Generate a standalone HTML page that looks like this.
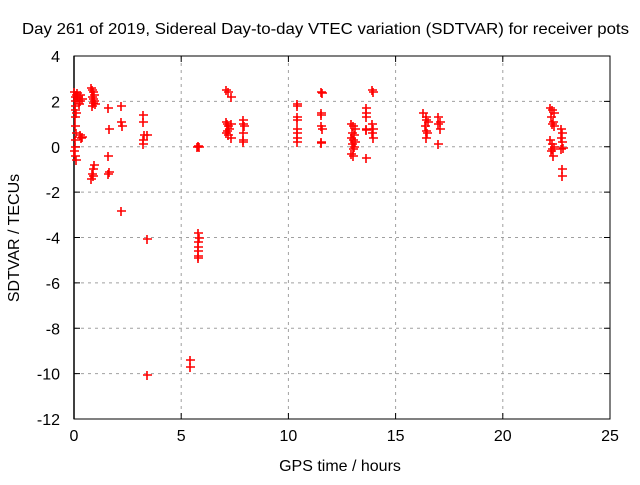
<!DOCTYPE html>
<html><head><meta charset="utf-8"><style>
body{margin:0;background:#fff}
svg text{font-family:"Liberation Sans",sans-serif;font-size:16px;fill:#000}
</style></head><body>
<svg width="640" height="480" xmlns="http://www.w3.org/2000/svg" id="c">
<text x="22" y="34" textLength="607" lengthAdjust="spacingAndGlyphs">Day 261 of 2019, Sidereal Day-to-day VTEC variation (SDTVAR) for receiver pots</text>
<text x="340" y="471" text-anchor="middle">GPS time / hours</text>
<text transform="translate(19,238) rotate(-90)" text-anchor="middle">SDTVAR / TECUs</text>
<g id="grid"></g>
<g id="ax"></g>
<g id="pts"></g>
</svg>
<script>
const xTicks=[0,5,10,15,20,25];
const yTicks=[4,2,0,-2,-4,-6,-8,-10,-12];
const xs=[0.02,0.03,0.05,0.04,0.06,0.08,0.03,0.05,0.07,0.04,0.06,0.02,0.05,0.08,0.1,0.12,0.15,0.2,0.25,0.3,0.35,0.28,0.32,0.3,0.35,
0.8,0.85,0.9,0.95,0.82,0.88,0.92,0.98,0.85,0.9,0.8,0.85,0.9,0.95,0.88,
1.6,1.62,1.6,1.62,1.6,2.2,2.2,2.22,2.2,3.2,3.2,3.25,3.2,3.2,3.4,3.4,3.4,5.4,5.4,
5.75,5.8,5.85,5.8,5.82,5.8,5.8,5.8,5.78,5.8,
7.1,7.2,7.3,7.1,7.15,7.2,7.25,7.3,7.1,7.2,7.3,7.15,7.9,7.9,7.92,7.9,7.88,7.9,
10.4,10.42,10.4,10.42,10.4,10.4,10.4,10.4,11.5,11.55,11.5,11.52,11.5,11.55,11.5,11.5,
12.9,13.0,13.1,12.95,13.05,12.9,13.0,13.1,12.95,13.05,13.0,12.9,13.0,13.6,13.62,13.6,13.6,13.62,13.6,
13.9,13.95,13.9,13.95,13.9,13.95,16.3,16.4,16.5,16.35,16.45,16.4,16.4,16.4,17.0,17.05,17.0,17.05,17.0,
22.2,22.3,22.4,22.25,22.35,22.3,22.4,22.2,22.3,22.4,22.25,22.35,22.3,22.7,22.75,22.7,22.75,22.7,22.8,22.75,22.75];
const ys=[2.4,2.2,2.0,1.8,1.6,1.5,1.3,0.9,0.6,0.3,0.0,-0.2,-0.4,-0.6,2.3,2.1,2.35,2.2,1.9,2.3,2.1,2.0,0.4,0.5,0.45,
2.6,2.5,2.4,2.3,2.2,2.1,2.0,1.9,1.8,1.95,-1.4,-1.2,-1.0,-0.8,-1.3,
1.7,0.8,-0.4,-1.1,-1.2,1.8,1.1,0.9,-2.85,1.4,1.1,0.5,0.3,0.1,0.5,-4.05,-10.05,-9.4,-9.7,
0.0,0.05,0.0,-3.8,-4.0,-4.2,-4.4,-4.6,-4.8,-4.9,
2.5,2.4,2.2,1.1,1.0,0.9,0.8,1.0,0.6,0.5,0.4,0.7,1.2,1.0,0.9,0.6,0.3,0.2,
1.9,1.8,1.3,1.2,0.8,0.6,0.4,0.2,2.4,2.35,1.5,1.4,0.9,0.8,0.2,0.15,
1.0,0.9,0.8,0.6,0.5,0.4,0.3,0.2,0.1,0.0,-0.1,-0.3,-0.4,1.7,1.5,1.3,0.8,0.75,-0.5,
2.5,2.4,1.0,0.8,0.6,0.4,1.5,1.3,1.1,0.9,0.6,0.4,1.2,0.7,1.3,1.1,1.0,0.8,0.1,
1.7,1.6,1.5,1.3,1.1,1.0,0.9,0.3,0.1,0.0,-0.2,-0.4,-0.1,0.8,0.6,0.4,0.2,-0.1,-0.05,-1.0,-1.3];
const X0=74,X1=610,Y0=419,Y1=56;
const sx=v=>X0+(v-0)/(25-0)*(X1-X0);
const sy=v=>Y0-(v+12)/16*(Y0-Y1);
const NS='http://www.w3.org/2000/svg';
function mk(p,t,a){const e=document.createElementNS(NS,t);for(const k in a)e.setAttribute(k,a[k]);p.appendChild(e);return e;}
const g=document.getElementById('grid'),ax=document.getElementById('ax'),pts=document.getElementById('pts');
xTicks.forEach(t=>{const x=sx(t);
 if(t>0&&t<25){const l=mk(g,'line',{x1:x,y1:Y1,x2:x,y2:Y0,stroke:'#a0a0a0','stroke-dasharray':'3,4'});}
 mk(ax,'line',{x1:x,y1:Y0,x2:x,y2:Y0-6,stroke:'#000'});mk(ax,'line',{x1:x,y1:Y1,x2:x,y2:Y1+6,stroke:'#000'});
 const tx=mk(ax,'text',{x:x,y:Y0+22,'text-anchor':'middle'});tx.textContent=t;
 });
yTicks.forEach(t=>{const y=sy(t);
 if(t>-12&&t<4){const l=mk(g,'line',{x1:X0,y1:y,x2:X1,y2:y,stroke:'#a0a0a0','stroke-dasharray':'3,4'});}
 mk(ax,'line',{x1:X0,y1:y,x2:X0+6,y2:y,stroke:'#000'});mk(ax,'line',{x1:X1,y1:y,x2:X1-6,y2:y,stroke:'#000'});
 const tx=mk(ax,'text',{x:X0-14,y:y+6,'text-anchor':'end'});tx.textContent=t;
 });
mk(ax,'rect',{x:X0,y:Y1,width:X1-X0,height:Y0-Y1,fill:'none',stroke:'#000'});
mk(ax,'line',{x1:sx(0),y1:Y1,x2:sx(0),y2:Y0,stroke:'#000','stroke-width':1.5});
for(let i=0;i<xs.length;i++){const x=Math.round(sx(xs[i])),y=Math.round(sy(ys[i]));
 const p=mk(pts,'path',{d:`M${x-4},${y}H${x+5}M${x},${y-4}V${y+5}`,fill:'none'});
 p.setAttribute('style','stroke:#ff0000;stroke-width:1.6');
 
 }
</script>
</body></html>
